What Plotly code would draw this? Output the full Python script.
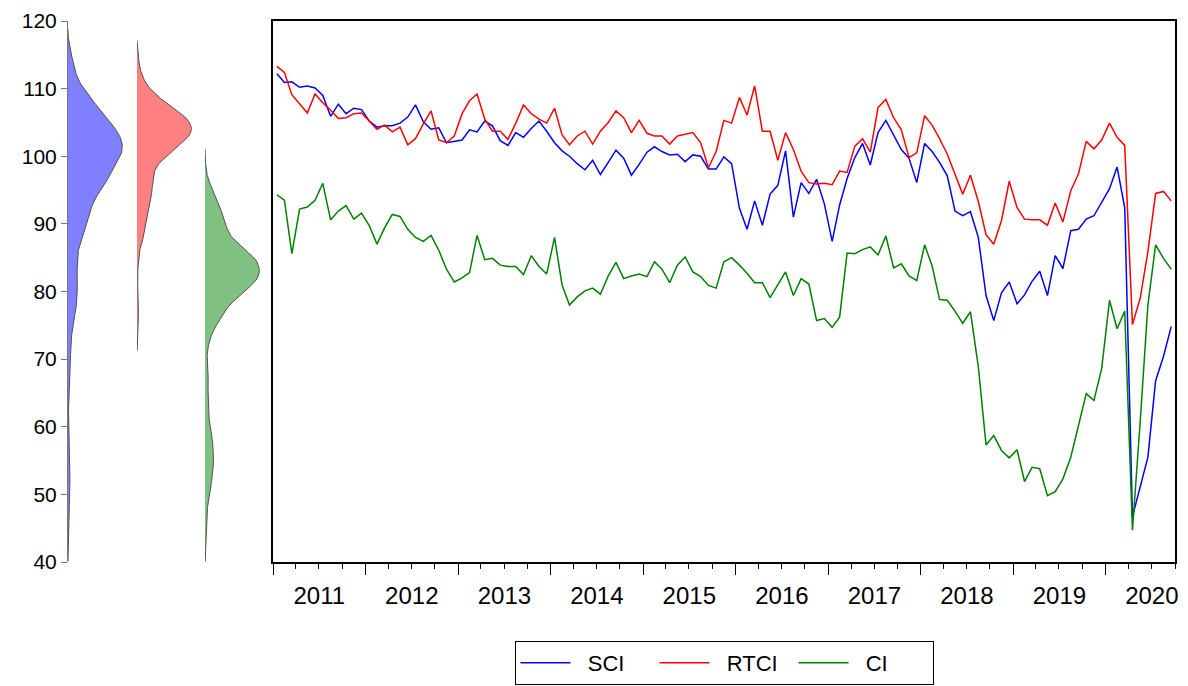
import numpy as np
import pandas as pd
import plotly.graph_objects as go

# ---------------- data ----------------
months = pd.date_range("2011-01-01", periods=117, freq="MS")

sci = [112.2, 110.9, 111.0, 110.2, 110.4, 110.1, 109.0, 105.9, 107.7, 106.3, 107.1, 106.9, 105.2, 104.3, 104.5, 104.5, 104.9, 105.8, 107.6, 105.1,
       104.0, 104.2, 102.0, 102.2, 102.4, 103.9, 103.6, 105.2, 104.5, 102.3, 101.6, 103.5, 102.8, 104.1, 105.2, 103.7, 102.0, 100.8, 100.0,
       98.9, 98.0, 99.4, 97.3, 99.1, 100.9, 99.7, 97.2, 98.8, 100.6, 101.4, 100.7, 100.2, 100.3, 99.2, 100.2, 100.0, 98.1, 98.1, 99.9,
       98.9, 92.3, 89.2, 93.4, 89.8, 94.4, 95.7, 100.8, 91.0, 96.1, 94.5, 96.6, 93.0, 87.4, 92.8, 96.7, 99.8, 101.9, 98.7,
       103.5, 105.3, 103.1, 101.0, 99.7, 96.1, 101.9, 100.7, 99.1, 97.1, 91.9, 91.2, 91.8, 88.0, 79.4, 75.7, 79.8, 81.4, 78.2,
       79.5, 81.5, 83.0, 79.4, 85.3, 83.4, 89.0, 89.2, 90.7, 91.2, 93.1, 95.2, 98.4, 92.4, 46.7, 50.9, 55.5, 66.8, 70.4, 74.8]

rtci = [113.3, 112.4, 109.1, 107.8, 106.4, 109.2, 107.9, 106.8, 105.6, 105.7, 106.3, 106.4, 105.1, 104.0, 104.6, 103.6, 104.3, 101.7, 102.6, 104.8,
        106.7, 102.4, 102.0, 103.0, 106.3, 108.2, 109.2, 105.5, 103.7, 103.7, 102.5, 104.9, 107.6, 106.3, 105.5, 104.9, 107.1, 103.2, 101.7,
        103.0, 103.7, 101.8, 103.7, 105.0, 106.7, 105.7, 103.5, 105.3, 103.4, 103.0, 103.0, 101.8, 103.0, 103.3, 103.5, 102.0, 98.3, 100.7, 105.3,
        104.9, 108.7, 106.1, 110.4, 103.7, 103.7, 99.4, 103.5, 101.0, 97.8, 96.1, 95.9, 96.0, 95.8, 97.8, 97.6, 101.5, 102.6, 100.6,
        107.2, 108.4, 105.7, 103.9, 99.8, 100.5, 106.0, 104.6, 102.6, 100.3, 97.2, 94.4, 97.2, 93.3, 88.4, 87.0, 90.5, 96.3, 92.4,
        90.7, 90.6, 90.6, 89.8, 93.1, 90.3, 94.9, 97.4, 102.2, 101.1, 102.4, 104.9, 102.8, 101.6, 75.1, 79.0, 85.9, 94.5, 94.8, 93.4]

ci = [94.3, 93.5, 85.6, 92.2, 92.5, 93.5, 96.0, 90.6, 91.9, 92.7, 90.7, 91.6, 89.7, 87.0, 89.4, 91.4, 91.1, 89.2, 88.0, 87.4,
      88.3, 86.1, 83.3, 81.4, 82.0, 82.8, 88.3, 84.7, 84.9, 83.9, 83.7, 83.7, 82.5, 85.3, 83.7, 82.6, 88.0, 81.0, 78.0,
      79.2, 80.1, 80.5, 79.6, 82.3, 84.3, 81.9, 82.3, 82.6, 82.2, 84.4, 83.3, 81.3, 83.9, 85.1, 82.9, 82.2, 80.9, 80.5, 84.4,
      85.0, 83.9, 82.7, 81.3, 81.3, 79.1, 80.9, 82.9, 79.4, 81.9, 81.1, 75.7, 76.0, 74.7, 76.2, 85.7, 85.6, 86.2, 86.6,
      85.4, 88.2, 83.5, 84.1, 82.3, 81.6, 86.9, 83.8, 78.8, 78.7, 77.1, 75.3, 77.0, 68.9, 57.3, 58.7, 56.5, 55.4, 56.6,
      51.9, 54.0, 53.8, 49.8, 50.4, 52.3, 55.5, 60.2, 64.9, 63.9, 68.6, 78.7, 74.5, 77.1, 44.7, 60.7, 78.0, 86.9, 84.9, 83.3]

names = ["SCI", "RTCI", "CI"]
y_ticks = [40, 50, 60, 70, 80, 90, 100, 110, 120]

# ---------------- styles ----------------
line_colors = ["#0000ff", "#ff0000", "#008000"]
fill_colors = ["rgb(128,128,255)", "rgb(255,128,128)", "rgb(128,192,128)"]
FONT = "Arial, Liberation Sans, sans-serif"


def kde(vals):
    v = np.asarray(vals, dtype=float)
    n = len(v)
    s = v.std(ddof=1)
    q75, q25 = np.percentile(v, [75, 25])
    h = 0.9 * 2.214 * min(s, (q75 - q25) / 1.34) * n ** -0.2
    rng = v.max() - v.min()
    grid = np.linspace(v.min() - 0.1 * rng, v.max() + 0.1 * rng, 400)
    u = (grid[:, None] - v[None, :]) / h
    k = np.where(np.abs(u) <= 1, 0.75 * (1 - u ** 2), 0.0)
    d = k.sum(axis=1) / (n * h)
    return grid, d / d.max()


# page has an 8px body margin; work in page pixels and shift
OFF = 8
FW, FH = 1188 - OFF, 686 - OFF
L, T = 68 - OFF, 21 - OFF
R = FW - (1175 - OFF)
B = FH - (562 - OFF)
W = FW - L - R
H = FH - T - B


def dom(px0, px1):
    return [(px0 - 68) / W, (px1 - 68) / W]


fig = go.Figure()

axes = ["x", "x2", "x3"]
for name, vals, fc, ax in zip(names, [sci, rtci, ci], fill_colors, axes):
    g, d = kde(vals)
    xs = np.concatenate([[0], d, [0]])
    ys = np.concatenate([[g[0]], g, [g[-1]]])
    fig.add_trace(go.Scatter(x=xs, y=ys, xaxis=ax, yaxis="y", mode="lines",
                             fill="toself", fillcolor=fc,
                             line=dict(color="#505050", width=1),
                             showlegend=False, hoverinfo="skip"))

NB = "\u00a0\u00a0"
for name, vals, lc in zip(names, [sci, rtci, ci], line_colors):
    fig.add_trace(go.Scatter(x=months, y=vals, xaxis="x4", yaxis="y2", mode="lines",
                             name=NB + name, line=dict(color=lc, width=1.5),
                             xperiod="M1", xperiodalignment="middle"))

hidden = dict(visible=False, range=[0, 1.03], fixedrange=True)
fig.update_layout(
    width=FW, height=FH,
    margin=dict(l=L, r=R, t=T, b=B, autoexpand=False),
    paper_bgcolor="white", plot_bgcolor="white",
    font=dict(family=FONT, size=21, color="black"),
    xaxis=dict(domain=dom(68, 124), anchor="y", **hidden),
    xaxis2=dict(domain=dom(137, 193), anchor="y", **hidden),
    xaxis3=dict(domain=dom(205, 261), anchor="y", **hidden),
    xaxis4=dict(domain=dom(273, 1175), anchor="y2", type="date",
                range=["2011-01-01", "2020-10-01"],
                tick0="2011-01-01", dtick="M12", tickformat="%Y",
                ticklabelmode="period", ticks="outside", ticklen=11,
                tickcolor="black", tickwidth=1,
                minor=dict(dtick="M3", ticks="outside", ticklen=5, tickcolor="black"),
                showline=True, linecolor="black", linewidth=1.5, mirror=True,
                showgrid=False, zeroline=False, automargin=False,
                tickfont=dict(size=24)),
    yaxis=dict(domain=[0, 1], anchor="x", range=[40, 120], tickvals=y_ticks,
               ticks="outside", ticklen=6, tickcolor="#777777",
               showline=True, linecolor="#777777", linewidth=1,
               showgrid=False, zeroline=False, automargin=False,
               tickfont=dict(size=21)),
    yaxis2=dict(domain=[0, 1], anchor="x4", range=[40, 120], showticklabels=False,
                ticks="", showline=True, linecolor="black", linewidth=1.5, mirror=True,
                showgrid=False, zeroline=False, automargin=False),
    legend=dict(orientation="h", x=(724 - 68) / W, xanchor="center",
                y=(562 - 641) / H, yanchor="top", bordercolor="black", borderwidth=1,
                font=dict(size=22), entrywidth=74, itemwidth=50),
    showlegend=True,
)

fig.write_html("out.html")
